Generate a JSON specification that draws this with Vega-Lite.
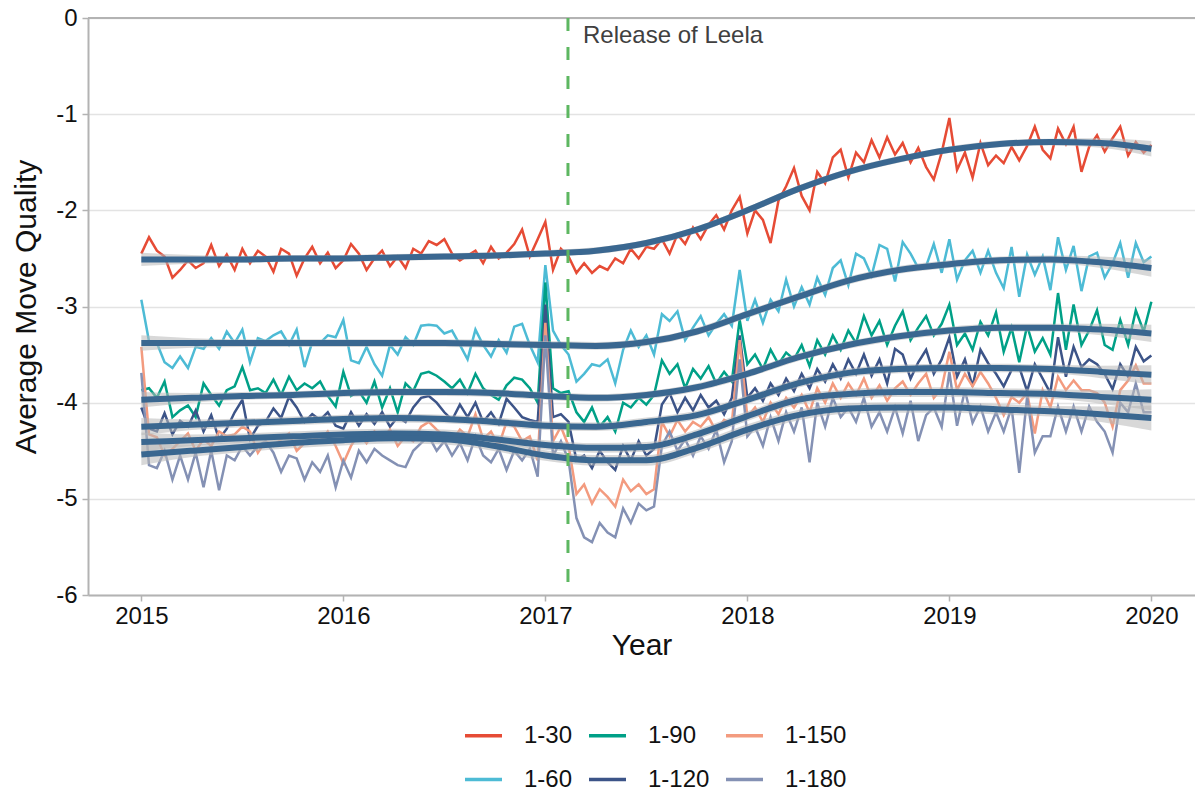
{
"$schema": "https://vega.github.io/schema/vega-lite/v6.json",
"width": 1107,
"height": 577,
"autosize": {"type": "none"},
"padding": {"left": 88, "top": 18, "right": 0, "bottom": 197},
"background": "white",
"config": {
  "font": "Liberation Sans",
  "view": {"stroke": null},
  "axis": {"labelFontSize": 24, "titleFontSize": 30, "titleFontWeight": "normal", "labelColor": "#111111", "titleColor": "#111111", "domainColor": "#b3b3b3", "domainWidth": 2, "tickColor": "#b3b3b3", "tickWidth": 1.5, "tickSize": 6, "gridColor": "#e3e3e3", "gridWidth": 1.5},
  "legend": {"labelFontSize": 24, "labelColor": "#111111", "symbolType": "stroke", "symbolSize": 1369, "symbolStrokeWidth": 3.5, "labelOffset": 20, "columnPadding": 9, "rowPadding": 11, "padding": 0, "offset": 0, "gridAlign": "each"}
},
"datasets": {
"events": [{"event": "Release of Leela", "t": 2017.112}],
"smooth": [
{"s":"1-30","t":2015,"y":-2.51,"lo":-2.58,"hi":-2.44},
{"s":"1-30","t":2015.25,"y":-2.51,"lo":-2.555,"hi":-2.465},
{"s":"1-30","t":2015.5,"y":-2.51,"lo":-2.545,"hi":-2.475},
{"s":"1-30","t":2015.75,"y":-2.50,"lo":-2.535,"hi":-2.465},
{"s":"1-30","t":2016,"y":-2.50,"lo":-2.535,"hi":-2.465},
{"s":"1-30","t":2016.25,"y":-2.49,"lo":-2.525,"hi":-2.455},
{"s":"1-30","t":2016.5,"y":-2.48,"lo":-2.515,"hi":-2.445},
{"s":"1-30","t":2016.75,"y":-2.47,"lo":-2.505,"hi":-2.435},
{"s":"1-30","t":2017,"y":-2.45,"lo":-2.485,"hi":-2.415},
{"s":"1-30","t":2017.25,"y":-2.42,"lo":-2.455,"hi":-2.385},
{"s":"1-30","t":2017.5,"y":-2.34,"lo":-2.375,"hi":-2.305},
{"s":"1-30","t":2017.75,"y":-2.20,"lo":-2.235,"hi":-2.165},
{"s":"1-30","t":2018,"y":-2.00,"lo":-2.035,"hi":-1.965},
{"s":"1-30","t":2018.25,"y":-1.78,"lo":-1.815,"hi":-1.745},
{"s":"1-30","t":2018.5,"y":-1.60,"lo":-1.635,"hi":-1.565},
{"s":"1-30","t":2018.75,"y":-1.47,"lo":-1.505,"hi":-1.435},
{"s":"1-30","t":2019,"y":-1.37,"lo":-1.405,"hi":-1.335},
{"s":"1-30","t":2019.25,"y":-1.31,"lo":-1.345,"hi":-1.275},
{"s":"1-30","t":2019.5,"y":-1.29,"lo":-1.325,"hi":-1.255},
{"s":"1-30","t":2019.75,"y":-1.30,"lo":-1.35,"hi":-1.25},
{"s":"1-30","t":2020,"y":-1.36,"lo":-1.44,"hi":-1.28},
{"s":"1-60","t":2015,"y":-3.38,"lo":-3.46,"hi":-3.30},
{"s":"1-60","t":2015.25,"y":-3.38,"lo":-3.43,"hi":-3.33},
{"s":"1-60","t":2015.5,"y":-3.38,"lo":-3.42,"hi":-3.34},
{"s":"1-60","t":2015.75,"y":-3.38,"lo":-3.42,"hi":-3.34},
{"s":"1-60","t":2016,"y":-3.38,"lo":-3.42,"hi":-3.34},
{"s":"1-60","t":2016.25,"y":-3.38,"lo":-3.42,"hi":-3.34},
{"s":"1-60","t":2016.5,"y":-3.38,"lo":-3.42,"hi":-3.34},
{"s":"1-60","t":2016.75,"y":-3.39,"lo":-3.43,"hi":-3.35},
{"s":"1-60","t":2017,"y":-3.40,"lo":-3.44,"hi":-3.36},
{"s":"1-60","t":2017.25,"y":-3.41,"lo":-3.45,"hi":-3.37},
{"s":"1-60","t":2017.5,"y":-3.37,"lo":-3.41,"hi":-3.33},
{"s":"1-60","t":2017.75,"y":-3.26,"lo":-3.30,"hi":-3.22},
{"s":"1-60","t":2018,"y":-3.08,"lo":-3.12,"hi":-3.04},
{"s":"1-60","t":2018.25,"y":-2.90,"lo":-2.94,"hi":-2.86},
{"s":"1-60","t":2018.5,"y":-2.73,"lo":-2.77,"hi":-2.69},
{"s":"1-60","t":2018.75,"y":-2.62,"lo":-2.66,"hi":-2.58},
{"s":"1-60","t":2019,"y":-2.56,"lo":-2.60,"hi":-2.52},
{"s":"1-60","t":2019.25,"y":-2.52,"lo":-2.56,"hi":-2.48},
{"s":"1-60","t":2019.5,"y":-2.51,"lo":-2.55,"hi":-2.47},
{"s":"1-60","t":2019.75,"y":-2.54,"lo":-2.60,"hi":-2.48},
{"s":"1-60","t":2020,"y":-2.60,"lo":-2.69,"hi":-2.51},
{"s":"1-90","t":2015,"y":-3.97,"lo":-4.05,"hi":-3.89},
{"s":"1-90","t":2015.25,"y":-3.95,"lo":-4.00,"hi":-3.90},
{"s":"1-90","t":2015.5,"y":-3.93,"lo":-3.97,"hi":-3.89},
{"s":"1-90","t":2015.75,"y":-3.92,"lo":-3.96,"hi":-3.88},
{"s":"1-90","t":2016,"y":-3.90,"lo":-3.94,"hi":-3.86},
{"s":"1-90","t":2016.25,"y":-3.89,"lo":-3.93,"hi":-3.85},
{"s":"1-90","t":2016.5,"y":-3.89,"lo":-3.93,"hi":-3.85},
{"s":"1-90","t":2016.75,"y":-3.90,"lo":-3.94,"hi":-3.86},
{"s":"1-90","t":2017,"y":-3.93,"lo":-3.97,"hi":-3.89},
{"s":"1-90","t":2017.25,"y":-3.95,"lo":-3.99,"hi":-3.91},
{"s":"1-90","t":2017.5,"y":-3.92,"lo":-3.96,"hi":-3.88},
{"s":"1-90","t":2017.75,"y":-3.84,"lo":-3.88,"hi":-3.80},
{"s":"1-90","t":2018,"y":-3.70,"lo":-3.74,"hi":-3.66},
{"s":"1-90","t":2018.25,"y":-3.53,"lo":-3.57,"hi":-3.49},
{"s":"1-90","t":2018.5,"y":-3.40,"lo":-3.44,"hi":-3.36},
{"s":"1-90","t":2018.75,"y":-3.31,"lo":-3.35,"hi":-3.27},
{"s":"1-90","t":2019,"y":-3.25,"lo":-3.29,"hi":-3.21},
{"s":"1-90","t":2019.25,"y":-3.22,"lo":-3.26,"hi":-3.18},
{"s":"1-90","t":2019.5,"y":-3.22,"lo":-3.26,"hi":-3.18},
{"s":"1-90","t":2019.75,"y":-3.24,"lo":-3.30,"hi":-3.18},
{"s":"1-90","t":2020,"y":-3.28,"lo":-3.37,"hi":-3.19},
{"s":"1-120","t":2015,"y":-4.25,"lo":-4.34,"hi":-4.16},
{"s":"1-120","t":2015.25,"y":-4.23,"lo":-4.285,"hi":-4.175},
{"s":"1-120","t":2015.5,"y":-4.21,"lo":-4.255,"hi":-4.165},
{"s":"1-120","t":2015.75,"y":-4.19,"lo":-4.235,"hi":-4.145},
{"s":"1-120","t":2016,"y":-4.17,"lo":-4.215,"hi":-4.125},
{"s":"1-120","t":2016.25,"y":-4.16,"lo":-4.205,"hi":-4.115},
{"s":"1-120","t":2016.5,"y":-4.17,"lo":-4.215,"hi":-4.125},
{"s":"1-120","t":2016.75,"y":-4.20,"lo":-4.245,"hi":-4.155},
{"s":"1-120","t":2017,"y":-4.24,"lo":-4.285,"hi":-4.195},
{"s":"1-120","t":2017.25,"y":-4.25,"lo":-4.295,"hi":-4.205},
{"s":"1-120","t":2017.5,"y":-4.20,"lo":-4.245,"hi":-4.155},
{"s":"1-120","t":2017.75,"y":-4.13,"lo":-4.175,"hi":-4.085},
{"s":"1-120","t":2018,"y":-3.97,"lo":-4.015,"hi":-3.925},
{"s":"1-120","t":2018.25,"y":-3.80,"lo":-3.845,"hi":-3.755},
{"s":"1-120","t":2018.5,"y":-3.69,"lo":-3.735,"hi":-3.645},
{"s":"1-120","t":2018.75,"y":-3.65,"lo":-3.695,"hi":-3.605},
{"s":"1-120","t":2019,"y":-3.64,"lo":-3.685,"hi":-3.595},
{"s":"1-120","t":2019.25,"y":-3.64,"lo":-3.685,"hi":-3.595},
{"s":"1-120","t":2019.5,"y":-3.65,"lo":-3.695,"hi":-3.605},
{"s":"1-120","t":2019.75,"y":-3.68,"lo":-3.745,"hi":-3.615},
{"s":"1-120","t":2020,"y":-3.71,"lo":-3.81,"hi":-3.61},
{"s":"1-150","t":2015,"y":-4.41,"lo":-4.51,"hi":-4.31},
{"s":"1-150","t":2015.25,"y":-4.39,"lo":-4.45,"hi":-4.33},
{"s":"1-150","t":2015.5,"y":-4.37,"lo":-4.42,"hi":-4.32},
{"s":"1-150","t":2015.75,"y":-4.35,"lo":-4.40,"hi":-4.30},
{"s":"1-150","t":2016,"y":-4.33,"lo":-4.38,"hi":-4.28},
{"s":"1-150","t":2016.25,"y":-4.32,"lo":-4.37,"hi":-4.27},
{"s":"1-150","t":2016.5,"y":-4.33,"lo":-4.38,"hi":-4.28},
{"s":"1-150","t":2016.75,"y":-4.38,"lo":-4.43,"hi":-4.33},
{"s":"1-150","t":2017,"y":-4.44,"lo":-4.49,"hi":-4.39},
{"s":"1-150","t":2017.25,"y":-4.47,"lo":-4.52,"hi":-4.42},
{"s":"1-150","t":2017.5,"y":-4.46,"lo":-4.51,"hi":-4.41},
{"s":"1-150","t":2017.75,"y":-4.33,"lo":-4.38,"hi":-4.28},
{"s":"1-150","t":2018,"y":-4.14,"lo":-4.19,"hi":-4.09},
{"s":"1-150","t":2018.25,"y":-3.97,"lo":-4.02,"hi":-3.92},
{"s":"1-150","t":2018.5,"y":-3.91,"lo":-3.96,"hi":-3.86},
{"s":"1-150","t":2018.75,"y":-3.89,"lo":-3.94,"hi":-3.84},
{"s":"1-150","t":2019,"y":-3.89,"lo":-3.94,"hi":-3.84},
{"s":"1-150","t":2019.25,"y":-3.90,"lo":-3.95,"hi":-3.85},
{"s":"1-150","t":2019.5,"y":-3.91,"lo":-3.96,"hi":-3.86},
{"s":"1-150","t":2019.75,"y":-3.94,"lo":-4.01,"hi":-3.87},
{"s":"1-150","t":2020,"y":-3.97,"lo":-4.08,"hi":-3.86},
{"s":"1-180","t":2015,"y":-4.54,"lo":-4.65,"hi":-4.43},
{"s":"1-180","t":2015.25,"y":-4.50,"lo":-4.565,"hi":-4.435},
{"s":"1-180","t":2015.5,"y":-4.46,"lo":-4.515,"hi":-4.405},
{"s":"1-180","t":2015.75,"y":-4.42,"lo":-4.475,"hi":-4.365},
{"s":"1-180","t":2016,"y":-4.39,"lo":-4.445,"hi":-4.335},
{"s":"1-180","t":2016.25,"y":-4.37,"lo":-4.425,"hi":-4.315},
{"s":"1-180","t":2016.5,"y":-4.38,"lo":-4.435,"hi":-4.325},
{"s":"1-180","t":2016.75,"y":-4.45,"lo":-4.505,"hi":-4.395},
{"s":"1-180","t":2017,"y":-4.55,"lo":-4.605,"hi":-4.495},
{"s":"1-180","t":2017.25,"y":-4.60,"lo":-4.655,"hi":-4.545},
{"s":"1-180","t":2017.5,"y":-4.60,"lo":-4.655,"hi":-4.545},
{"s":"1-180","t":2017.75,"y":-4.47,"lo":-4.525,"hi":-4.415},
{"s":"1-180","t":2018,"y":-4.28,"lo":-4.335,"hi":-4.225},
{"s":"1-180","t":2018.25,"y":-4.13,"lo":-4.185,"hi":-4.075},
{"s":"1-180","t":2018.5,"y":-4.06,"lo":-4.115,"hi":-4.005},
{"s":"1-180","t":2018.75,"y":-4.05,"lo":-4.105,"hi":-3.995},
{"s":"1-180","t":2019,"y":-4.05,"lo":-4.105,"hi":-3.995},
{"s":"1-180","t":2019.25,"y":-4.07,"lo":-4.125,"hi":-4.015},
{"s":"1-180","t":2019.5,"y":-4.09,"lo":-4.145,"hi":-4.035},
{"s":"1-180","t":2019.75,"y":-4.12,"lo":-4.20,"hi":-4.04},
{"s":"1-180","t":2020,"y":-4.16,"lo":-4.29,"hi":-4.03}
],
"raw": [
{"s":"1-30","t":2015,"v":-2.45},{"s":"1-30","t":2015.038,"v":-2.28},{"s":"1-30","t":2015.077,"v":-2.42},{"s":"1-30","t":2015.115,"v":-2.48},{"s":"1-30","t":2015.154,"v":-2.70},{"s":"1-30","t":2015.192,"v":-2.62},{"s":"1-30","t":2015.231,"v":-2.52},{"s":"1-30","t":2015.269,"v":-2.60},{"s":"1-30","t":2015.308,"v":-2.55},{"s":"1-30","t":2015.346,"v":-2.36},{"s":"1-30","t":2015.385,"v":-2.58},{"s":"1-30","t":2015.423,"v":-2.46},{"s":"1-30","t":2015.462,"v":-2.62},{"s":"1-30","t":2015.5,"v":-2.40},{"s":"1-30","t":2015.538,"v":-2.55},{"s":"1-30","t":2015.577,"v":-2.42},{"s":"1-30","t":2015.615,"v":-2.48},{"s":"1-30","t":2015.654,"v":-2.64},{"s":"1-30","t":2015.692,"v":-2.40},{"s":"1-30","t":2015.731,"v":-2.45},{"s":"1-30","t":2015.769,"v":-2.68},{"s":"1-30","t":2015.808,"v":-2.50},{"s":"1-30","t":2015.846,"v":-2.38},{"s":"1-30","t":2015.885,"v":-2.55},{"s":"1-30","t":2015.923,"v":-2.44},{"s":"1-30","t":2015.962,"v":-2.60},
{"s":"1-30","t":2016,"v":-2.52},{"s":"1-30","t":2016.038,"v":-2.35},{"s":"1-30","t":2016.077,"v":-2.45},{"s":"1-30","t":2016.115,"v":-2.62},{"s":"1-30","t":2016.154,"v":-2.50},{"s":"1-30","t":2016.192,"v":-2.42},{"s":"1-30","t":2016.231,"v":-2.58},{"s":"1-30","t":2016.269,"v":-2.48},{"s":"1-30","t":2016.308,"v":-2.60},{"s":"1-30","t":2016.346,"v":-2.40},{"s":"1-30","t":2016.385,"v":-2.45},{"s":"1-30","t":2016.423,"v":-2.32},{"s":"1-30","t":2016.462,"v":-2.36},{"s":"1-30","t":2016.5,"v":-2.30},{"s":"1-30","t":2016.538,"v":-2.45},{"s":"1-30","t":2016.577,"v":-2.52},{"s":"1-30","t":2016.615,"v":-2.47},{"s":"1-30","t":2016.654,"v":-2.42},{"s":"1-30","t":2016.692,"v":-2.55},{"s":"1-30","t":2016.731,"v":-2.38},{"s":"1-30","t":2016.769,"v":-2.50},{"s":"1-30","t":2016.808,"v":-2.44},{"s":"1-30","t":2016.846,"v":-2.35},{"s":"1-30","t":2016.885,"v":-2.20},{"s":"1-30","t":2016.923,"v":-2.48},{"s":"1-30","t":2016.962,"v":-2.30},
{"s":"1-30","t":2017,"v":-2.12},{"s":"1-30","t":2017.038,"v":-2.62},{"s":"1-30","t":2017.077,"v":-2.40},{"s":"1-30","t":2017.115,"v":-2.48},{"s":"1-30","t":2017.154,"v":-2.65},{"s":"1-30","t":2017.192,"v":-2.55},{"s":"1-30","t":2017.231,"v":-2.65},{"s":"1-30","t":2017.269,"v":-2.58},{"s":"1-30","t":2017.308,"v":-2.62},{"s":"1-30","t":2017.346,"v":-2.50},{"s":"1-30","t":2017.385,"v":-2.55},{"s":"1-30","t":2017.423,"v":-2.40},{"s":"1-30","t":2017.462,"v":-2.50},{"s":"1-30","t":2017.5,"v":-2.38},{"s":"1-30","t":2017.538,"v":-2.40},{"s":"1-30","t":2017.577,"v":-2.30},{"s":"1-30","t":2017.615,"v":-2.45},{"s":"1-30","t":2017.654,"v":-2.25},{"s":"1-30","t":2017.692,"v":-2.35},{"s":"1-30","t":2017.731,"v":-2.18},{"s":"1-30","t":2017.769,"v":-2.30},{"s":"1-30","t":2017.808,"v":-2.15},{"s":"1-30","t":2017.846,"v":-2.05},{"s":"1-30","t":2017.885,"v":-2.20},{"s":"1-30","t":2017.923,"v":-2.00},{"s":"1-30","t":2017.962,"v":-1.86},
{"s":"1-30","t":2018,"v":-2.24},{"s":"1-30","t":2018.038,"v":-2.00},{"s":"1-30","t":2018.077,"v":-2.10},{"s":"1-30","t":2018.115,"v":-2.34},{"s":"1-30","t":2018.154,"v":-1.90},{"s":"1-30","t":2018.192,"v":-1.75},{"s":"1-30","t":2018.231,"v":-1.56},{"s":"1-30","t":2018.269,"v":-1.85},{"s":"1-30","t":2018.308,"v":-2.00},{"s":"1-30","t":2018.346,"v":-1.60},{"s":"1-30","t":2018.385,"v":-1.72},{"s":"1-30","t":2018.423,"v":-1.45},{"s":"1-30","t":2018.462,"v":-1.37},{"s":"1-30","t":2018.5,"v":-1.66},{"s":"1-30","t":2018.538,"v":-1.40},{"s":"1-30","t":2018.577,"v":-1.50},{"s":"1-30","t":2018.615,"v":-1.27},{"s":"1-30","t":2018.654,"v":-1.45},{"s":"1-30","t":2018.692,"v":-1.24},{"s":"1-30","t":2018.731,"v":-1.42},{"s":"1-30","t":2018.769,"v":-1.30},{"s":"1-30","t":2018.808,"v":-1.50},{"s":"1-30","t":2018.846,"v":-1.35},{"s":"1-30","t":2018.885,"v":-1.55},{"s":"1-30","t":2018.923,"v":-1.68},{"s":"1-30","t":2018.962,"v":-1.40},
{"s":"1-30","t":2019,"v":-1.04},{"s":"1-30","t":2019.038,"v":-1.58},{"s":"1-30","t":2019.077,"v":-1.40},{"s":"1-30","t":2019.115,"v":-1.66},{"s":"1-30","t":2019.154,"v":-1.30},{"s":"1-30","t":2019.192,"v":-1.53},{"s":"1-30","t":2019.231,"v":-1.43},{"s":"1-30","t":2019.269,"v":-1.51},{"s":"1-30","t":2019.308,"v":-1.34},{"s":"1-30","t":2019.346,"v":-1.48},{"s":"1-30","t":2019.385,"v":-1.33},{"s":"1-30","t":2019.423,"v":-1.13},{"s":"1-30","t":2019.462,"v":-1.37},{"s":"1-30","t":2019.5,"v":-1.46},{"s":"1-30","t":2019.538,"v":-1.15},{"s":"1-30","t":2019.577,"v":-1.31},{"s":"1-30","t":2019.615,"v":-1.13},{"s":"1-30","t":2019.654,"v":-1.60},{"s":"1-30","t":2019.692,"v":-1.34},{"s":"1-30","t":2019.731,"v":-1.22},{"s":"1-30","t":2019.769,"v":-1.39},{"s":"1-30","t":2019.808,"v":-1.25},{"s":"1-30","t":2019.846,"v":-1.13},{"s":"1-30","t":2019.885,"v":-1.43},{"s":"1-30","t":2019.923,"v":-1.29},{"s":"1-30","t":2019.962,"v":-1.40},{"s":"1-30","t":2020,"v":-1.32},
{"s":"1-60","t":2015,"v":-2.93},{"s":"1-60","t":2015.038,"v":-3.36},{"s":"1-60","t":2015.077,"v":-3.38},{"s":"1-60","t":2015.115,"v":-3.58},{"s":"1-60","t":2015.154,"v":-3.64},{"s":"1-60","t":2015.192,"v":-3.52},{"s":"1-60","t":2015.231,"v":-3.64},{"s":"1-60","t":2015.269,"v":-3.42},{"s":"1-60","t":2015.308,"v":-3.44},{"s":"1-60","t":2015.346,"v":-3.33},{"s":"1-60","t":2015.385,"v":-3.44},{"s":"1-60","t":2015.423,"v":-3.26},{"s":"1-60","t":2015.462,"v":-3.38},{"s":"1-60","t":2015.5,"v":-3.24},{"s":"1-60","t":2015.538,"v":-3.58},{"s":"1-60","t":2015.577,"v":-3.33},{"s":"1-60","t":2015.615,"v":-3.36},{"s":"1-60","t":2015.654,"v":-3.30},{"s":"1-60","t":2015.692,"v":-3.26},{"s":"1-60","t":2015.731,"v":-3.40},{"s":"1-60","t":2015.769,"v":-3.24},{"s":"1-60","t":2015.808,"v":-3.63},{"s":"1-60","t":2015.846,"v":-3.37},{"s":"1-60","t":2015.885,"v":-3.38},{"s":"1-60","t":2015.923,"v":-3.30},{"s":"1-60","t":2015.962,"v":-3.32},
{"s":"1-60","t":2016,"v":-3.14},{"s":"1-60","t":2016.038,"v":-3.56},{"s":"1-60","t":2016.077,"v":-3.59},{"s":"1-60","t":2016.115,"v":-3.42},{"s":"1-60","t":2016.154,"v":-3.60},{"s":"1-60","t":2016.192,"v":-3.72},{"s":"1-60","t":2016.231,"v":-3.40},{"s":"1-60","t":2016.269,"v":-3.50},{"s":"1-60","t":2016.308,"v":-3.32},{"s":"1-60","t":2016.346,"v":-3.40},{"s":"1-60","t":2016.385,"v":-3.20},{"s":"1-60","t":2016.423,"v":-3.19},{"s":"1-60","t":2016.462,"v":-3.20},{"s":"1-60","t":2016.5,"v":-3.28},{"s":"1-60","t":2016.538,"v":-3.25},{"s":"1-60","t":2016.577,"v":-3.40},{"s":"1-60","t":2016.615,"v":-3.55},{"s":"1-60","t":2016.654,"v":-3.24},{"s":"1-60","t":2016.692,"v":-3.40},{"s":"1-60","t":2016.731,"v":-3.52},{"s":"1-60","t":2016.769,"v":-3.35},{"s":"1-60","t":2016.808,"v":-3.48},{"s":"1-60","t":2016.846,"v":-3.21},{"s":"1-60","t":2016.885,"v":-3.18},{"s":"1-60","t":2016.923,"v":-3.40},{"s":"1-60","t":2016.962,"v":-3.58},
{"s":"1-60","t":2017,"v":-2.57},{"s":"1-60","t":2017.038,"v":-3.25},{"s":"1-60","t":2017.077,"v":-3.40},{"s":"1-60","t":2017.115,"v":-3.50},{"s":"1-60","t":2017.154,"v":-3.78},{"s":"1-60","t":2017.192,"v":-3.70},{"s":"1-60","t":2017.231,"v":-3.60},{"s":"1-60","t":2017.269,"v":-3.62},{"s":"1-60","t":2017.308,"v":-3.55},{"s":"1-60","t":2017.346,"v":-3.80},{"s":"1-60","t":2017.385,"v":-3.45},{"s":"1-60","t":2017.423,"v":-3.25},{"s":"1-60","t":2017.462,"v":-3.42},{"s":"1-60","t":2017.5,"v":-3.30},{"s":"1-60","t":2017.538,"v":-3.50},{"s":"1-60","t":2017.577,"v":-3.08},{"s":"1-60","t":2017.615,"v":-3.15},{"s":"1-60","t":2017.654,"v":-3.05},{"s":"1-60","t":2017.692,"v":-3.35},{"s":"1-60","t":2017.731,"v":-3.22},{"s":"1-60","t":2017.769,"v":-3.10},{"s":"1-60","t":2017.808,"v":-3.30},{"s":"1-60","t":2017.846,"v":-3.18},{"s":"1-60","t":2017.885,"v":-3.08},{"s":"1-60","t":2017.923,"v":-3.20},{"s":"1-60","t":2017.962,"v":-2.62},
{"s":"1-60","t":2018,"v":-3.15},{"s":"1-60","t":2018.038,"v":-2.93},{"s":"1-60","t":2018.077,"v":-3.17},{"s":"1-60","t":2018.115,"v":-2.93},{"s":"1-60","t":2018.154,"v":-3.05},{"s":"1-60","t":2018.192,"v":-2.72},{"s":"1-60","t":2018.231,"v":-3.00},{"s":"1-60","t":2018.269,"v":-2.80},{"s":"1-60","t":2018.308,"v":-2.98},{"s":"1-60","t":2018.346,"v":-2.70},{"s":"1-60","t":2018.385,"v":-2.88},{"s":"1-60","t":2018.423,"v":-2.60},{"s":"1-60","t":2018.462,"v":-2.52},{"s":"1-60","t":2018.5,"v":-2.78},{"s":"1-60","t":2018.538,"v":-2.45},{"s":"1-60","t":2018.577,"v":-2.50},{"s":"1-60","t":2018.615,"v":-2.68},{"s":"1-60","t":2018.654,"v":-2.36},{"s":"1-60","t":2018.692,"v":-2.40},{"s":"1-60","t":2018.731,"v":-2.74},{"s":"1-60","t":2018.769,"v":-2.33},{"s":"1-60","t":2018.808,"v":-2.45},{"s":"1-60","t":2018.846,"v":-2.60},{"s":"1-60","t":2018.885,"v":-2.58},{"s":"1-60","t":2018.923,"v":-2.35},{"s":"1-60","t":2018.962,"v":-2.65},
{"s":"1-60","t":2019,"v":-2.30},{"s":"1-60","t":2019.038,"v":-2.72},{"s":"1-60","t":2019.077,"v":-2.52},{"s":"1-60","t":2019.115,"v":-2.42},{"s":"1-60","t":2019.154,"v":-2.65},{"s":"1-60","t":2019.192,"v":-2.42},{"s":"1-60","t":2019.231,"v":-2.65},{"s":"1-60","t":2019.269,"v":-2.81},{"s":"1-60","t":2019.308,"v":-2.38},{"s":"1-60","t":2019.346,"v":-2.90},{"s":"1-60","t":2019.385,"v":-2.46},{"s":"1-60","t":2019.423,"v":-2.67},{"s":"1-60","t":2019.462,"v":-2.48},{"s":"1-60","t":2019.5,"v":-2.83},{"s":"1-60","t":2019.538,"v":-2.28},{"s":"1-60","t":2019.577,"v":-2.62},{"s":"1-60","t":2019.615,"v":-2.37},{"s":"1-60","t":2019.654,"v":-2.84},{"s":"1-60","t":2019.692,"v":-2.48},{"s":"1-60","t":2019.731,"v":-2.44},{"s":"1-60","t":2019.769,"v":-2.70},{"s":"1-60","t":2019.808,"v":-2.55},{"s":"1-60","t":2019.846,"v":-2.34},{"s":"1-60","t":2019.885,"v":-2.70},{"s":"1-60","t":2019.923,"v":-2.34},{"s":"1-60","t":2019.962,"v":-2.54},{"s":"1-60","t":2020,"v":-2.48},
{"s":"1-90","t":2015,"v":-3.87},{"s":"1-90","t":2015.038,"v":-3.85},{"s":"1-90","t":2015.077,"v":-3.95},{"s":"1-90","t":2015.115,"v":-3.78},{"s":"1-90","t":2015.154,"v":-4.15},{"s":"1-90","t":2015.192,"v":-4.08},{"s":"1-90","t":2015.231,"v":-4.03},{"s":"1-90","t":2015.269,"v":-4.15},{"s":"1-90","t":2015.308,"v":-3.80},{"s":"1-90","t":2015.346,"v":-3.92},{"s":"1-90","t":2015.385,"v":-4.03},{"s":"1-90","t":2015.423,"v":-3.87},{"s":"1-90","t":2015.462,"v":-3.83},{"s":"1-90","t":2015.5,"v":-3.63},{"s":"1-90","t":2015.538,"v":-3.87},{"s":"1-90","t":2015.577,"v":-3.85},{"s":"1-90","t":2015.615,"v":-3.90},{"s":"1-90","t":2015.654,"v":-3.76},{"s":"1-90","t":2015.692,"v":-3.92},{"s":"1-90","t":2015.731,"v":-3.73},{"s":"1-90","t":2015.769,"v":-3.87},{"s":"1-90","t":2015.808,"v":-3.80},{"s":"1-90","t":2015.846,"v":-3.85},{"s":"1-90","t":2015.885,"v":-3.78},{"s":"1-90","t":2015.923,"v":-3.93},{"s":"1-90","t":2015.962,"v":-4.04},
{"s":"1-90","t":2016,"v":-3.68},{"s":"1-90","t":2016.038,"v":-3.93},{"s":"1-90","t":2016.077,"v":-3.88},{"s":"1-90","t":2016.115,"v":-4.00},{"s":"1-90","t":2016.154,"v":-3.78},{"s":"1-90","t":2016.192,"v":-4.05},{"s":"1-90","t":2016.231,"v":-3.85},{"s":"1-90","t":2016.269,"v":-4.10},{"s":"1-90","t":2016.308,"v":-3.80},{"s":"1-90","t":2016.346,"v":-3.88},{"s":"1-90","t":2016.385,"v":-3.70},{"s":"1-90","t":2016.423,"v":-3.68},{"s":"1-90","t":2016.462,"v":-3.72},{"s":"1-90","t":2016.5,"v":-3.78},{"s":"1-90","t":2016.538,"v":-3.85},{"s":"1-90","t":2016.577,"v":-3.76},{"s":"1-90","t":2016.615,"v":-3.90},{"s":"1-90","t":2016.654,"v":-3.70},{"s":"1-90","t":2016.692,"v":-3.85},{"s":"1-90","t":2016.731,"v":-3.92},{"s":"1-90","t":2016.769,"v":-3.97},{"s":"1-90","t":2016.808,"v":-3.82},{"s":"1-90","t":2016.846,"v":-3.74},{"s":"1-90","t":2016.885,"v":-3.76},{"s":"1-90","t":2016.923,"v":-3.85},{"s":"1-90","t":2016.962,"v":-4.00},
{"s":"1-90","t":2017,"v":-2.75},{"s":"1-90","t":2017.038,"v":-3.85},{"s":"1-90","t":2017.077,"v":-3.90},{"s":"1-90","t":2017.115,"v":-3.88},{"s":"1-90","t":2017.154,"v":-4.10},{"s":"1-90","t":2017.192,"v":-4.20},{"s":"1-90","t":2017.231,"v":-4.05},{"s":"1-90","t":2017.269,"v":-4.25},{"s":"1-90","t":2017.308,"v":-4.15},{"s":"1-90","t":2017.346,"v":-4.30},{"s":"1-90","t":2017.385,"v":-4.00},{"s":"1-90","t":2017.423,"v":-4.05},{"s":"1-90","t":2017.462,"v":-3.95},{"s":"1-90","t":2017.5,"v":-4.02},{"s":"1-90","t":2017.538,"v":-3.92},{"s":"1-90","t":2017.577,"v":-3.56},{"s":"1-90","t":2017.615,"v":-3.70},{"s":"1-90","t":2017.654,"v":-3.60},{"s":"1-90","t":2017.692,"v":-3.85},{"s":"1-90","t":2017.731,"v":-3.65},{"s":"1-90","t":2017.769,"v":-3.75},{"s":"1-90","t":2017.808,"v":-3.62},{"s":"1-90","t":2017.846,"v":-3.80},{"s":"1-90","t":2017.885,"v":-3.68},{"s":"1-90","t":2017.923,"v":-3.78},{"s":"1-90","t":2017.962,"v":-3.14},
{"s":"1-90","t":2018,"v":-3.60},{"s":"1-90","t":2018.038,"v":-3.50},{"s":"1-90","t":2018.077,"v":-3.65},{"s":"1-90","t":2018.115,"v":-3.45},{"s":"1-90","t":2018.154,"v":-3.60},{"s":"1-90","t":2018.192,"v":-3.48},{"s":"1-90","t":2018.231,"v":-3.55},{"s":"1-90","t":2018.269,"v":-3.40},{"s":"1-90","t":2018.308,"v":-3.62},{"s":"1-90","t":2018.346,"v":-3.35},{"s":"1-90","t":2018.385,"v":-3.50},{"s":"1-90","t":2018.423,"v":-3.30},{"s":"1-90","t":2018.462,"v":-3.45},{"s":"1-90","t":2018.5,"v":-3.25},{"s":"1-90","t":2018.538,"v":-3.38},{"s":"1-90","t":2018.577,"v":-3.10},{"s":"1-90","t":2018.615,"v":-3.30},{"s":"1-90","t":2018.654,"v":-3.15},{"s":"1-90","t":2018.692,"v":-3.40},{"s":"1-90","t":2018.731,"v":-3.20},{"s":"1-90","t":2018.769,"v":-3.05},{"s":"1-90","t":2018.808,"v":-3.35},{"s":"1-90","t":2018.846,"v":-3.22},{"s":"1-90","t":2018.885,"v":-3.10},{"s":"1-90","t":2018.923,"v":-3.30},{"s":"1-90","t":2018.962,"v":-3.18},
{"s":"1-90","t":2019,"v":-2.98},{"s":"1-90","t":2019.038,"v":-3.40},{"s":"1-90","t":2019.077,"v":-3.28},{"s":"1-90","t":2019.115,"v":-3.45},{"s":"1-90","t":2019.154,"v":-3.16},{"s":"1-90","t":2019.192,"v":-3.30},{"s":"1-90","t":2019.231,"v":-3.06},{"s":"1-90","t":2019.269,"v":-3.47},{"s":"1-90","t":2019.308,"v":-3.22},{"s":"1-90","t":2019.346,"v":-3.58},{"s":"1-90","t":2019.385,"v":-3.20},{"s":"1-90","t":2019.423,"v":-3.47},{"s":"1-90","t":2019.462,"v":-3.33},{"s":"1-90","t":2019.5,"v":-3.50},{"s":"1-90","t":2019.538,"v":-2.86},{"s":"1-90","t":2019.577,"v":-3.45},{"s":"1-90","t":2019.615,"v":-2.98},{"s":"1-90","t":2019.654,"v":-3.40},{"s":"1-90","t":2019.692,"v":-3.25},{"s":"1-90","t":2019.731,"v":-3.04},{"s":"1-90","t":2019.769,"v":-3.40},{"s":"1-90","t":2019.808,"v":-3.45},{"s":"1-90","t":2019.846,"v":-3.14},{"s":"1-90","t":2019.885,"v":-3.40},{"s":"1-90","t":2019.923,"v":-3.04},{"s":"1-90","t":2019.962,"v":-3.26},{"s":"1-90","t":2020,"v":-2.95},
{"s":"1-120","t":2015,"v":-4.05},{"s":"1-120","t":2015.038,"v":-4.27},{"s":"1-120","t":2015.077,"v":-4.30},{"s":"1-120","t":2015.115,"v":-4.11},{"s":"1-120","t":2015.154,"v":-4.33},{"s":"1-120","t":2015.192,"v":-4.19},{"s":"1-120","t":2015.231,"v":-4.25},{"s":"1-120","t":2015.269,"v":-4.08},{"s":"1-120","t":2015.308,"v":-4.30},{"s":"1-120","t":2015.346,"v":-4.13},{"s":"1-120","t":2015.385,"v":-4.38},{"s":"1-120","t":2015.423,"v":-4.27},{"s":"1-120","t":2015.462,"v":-4.10},{"s":"1-120","t":2015.5,"v":-3.97},{"s":"1-120","t":2015.538,"v":-4.38},{"s":"1-120","t":2015.577,"v":-4.24},{"s":"1-120","t":2015.615,"v":-4.20},{"s":"1-120","t":2015.654,"v":-4.06},{"s":"1-120","t":2015.692,"v":-4.16},{"s":"1-120","t":2015.731,"v":-3.94},{"s":"1-120","t":2015.769,"v":-4.05},{"s":"1-120","t":2015.808,"v":-4.20},{"s":"1-120","t":2015.846,"v":-4.12},{"s":"1-120","t":2015.885,"v":-4.18},{"s":"1-120","t":2015.923,"v":-4.10},{"s":"1-120","t":2015.962,"v":-4.24},
{"s":"1-120","t":2016,"v":-4.27},{"s":"1-120","t":2016.038,"v":-4.10},{"s":"1-120","t":2016.077,"v":-4.24},{"s":"1-120","t":2016.115,"v":-4.12},{"s":"1-120","t":2016.154,"v":-4.22},{"s":"1-120","t":2016.192,"v":-4.10},{"s":"1-120","t":2016.231,"v":-4.25},{"s":"1-120","t":2016.269,"v":-4.15},{"s":"1-120","t":2016.308,"v":-4.20},{"s":"1-120","t":2016.346,"v":-4.05},{"s":"1-120","t":2016.385,"v":-3.95},{"s":"1-120","t":2016.423,"v":-3.93},{"s":"1-120","t":2016.462,"v":-4.00},{"s":"1-120","t":2016.5,"v":-4.10},{"s":"1-120","t":2016.538,"v":-4.18},{"s":"1-120","t":2016.577,"v":-4.02},{"s":"1-120","t":2016.615,"v":-4.15},{"s":"1-120","t":2016.654,"v":-4.00},{"s":"1-120","t":2016.692,"v":-4.20},{"s":"1-120","t":2016.731,"v":-4.10},{"s":"1-120","t":2016.769,"v":-4.22},{"s":"1-120","t":2016.808,"v":-3.96},{"s":"1-120","t":2016.846,"v":-4.05},{"s":"1-120","t":2016.885,"v":-4.15},{"s":"1-120","t":2016.923,"v":-4.18},{"s":"1-120","t":2016.962,"v":-4.20},
{"s":"1-120","t":2017,"v":-2.98},{"s":"1-120","t":2017.038,"v":-4.15},{"s":"1-120","t":2017.077,"v":-4.12},{"s":"1-120","t":2017.115,"v":-4.20},{"s":"1-120","t":2017.154,"v":-4.60},{"s":"1-120","t":2017.192,"v":-4.55},{"s":"1-120","t":2017.231,"v":-4.68},{"s":"1-120","t":2017.269,"v":-4.50},{"s":"1-120","t":2017.308,"v":-4.62},{"s":"1-120","t":2017.346,"v":-4.70},{"s":"1-120","t":2017.385,"v":-4.45},{"s":"1-120","t":2017.423,"v":-4.60},{"s":"1-120","t":2017.462,"v":-4.40},{"s":"1-120","t":2017.5,"v":-4.55},{"s":"1-120","t":2017.538,"v":-4.48},{"s":"1-120","t":2017.577,"v":-4.02},{"s":"1-120","t":2017.615,"v":-3.90},{"s":"1-120","t":2017.654,"v":-4.10},{"s":"1-120","t":2017.692,"v":-3.95},{"s":"1-120","t":2017.731,"v":-4.08},{"s":"1-120","t":2017.769,"v":-3.92},{"s":"1-120","t":2017.808,"v":-4.05},{"s":"1-120","t":2017.846,"v":-3.98},{"s":"1-120","t":2017.885,"v":-4.12},{"s":"1-120","t":2017.923,"v":-3.95},{"s":"1-120","t":2017.962,"v":-3.30},
{"s":"1-120","t":2018,"v":-3.95},{"s":"1-120","t":2018.038,"v":-3.85},{"s":"1-120","t":2018.077,"v":-3.98},{"s":"1-120","t":2018.115,"v":-3.80},{"s":"1-120","t":2018.154,"v":-3.92},{"s":"1-120","t":2018.192,"v":-3.75},{"s":"1-120","t":2018.231,"v":-3.88},{"s":"1-120","t":2018.269,"v":-3.70},{"s":"1-120","t":2018.308,"v":-3.85},{"s":"1-120","t":2018.346,"v":-3.65},{"s":"1-120","t":2018.385,"v":-3.78},{"s":"1-120","t":2018.423,"v":-3.60},{"s":"1-120","t":2018.462,"v":-3.75},{"s":"1-120","t":2018.5,"v":-3.55},{"s":"1-120","t":2018.538,"v":-3.70},{"s":"1-120","t":2018.577,"v":-3.50},{"s":"1-120","t":2018.615,"v":-3.72},{"s":"1-120","t":2018.654,"v":-3.55},{"s":"1-120","t":2018.692,"v":-3.80},{"s":"1-120","t":2018.731,"v":-3.44},{"s":"1-120","t":2018.769,"v":-3.50},{"s":"1-120","t":2018.808,"v":-3.75},{"s":"1-120","t":2018.846,"v":-3.58},{"s":"1-120","t":2018.885,"v":-3.45},{"s":"1-120","t":2018.923,"v":-3.70},{"s":"1-120","t":2018.962,"v":-3.55},
{"s":"1-120","t":2019,"v":-3.32},{"s":"1-120","t":2019.038,"v":-3.73},{"s":"1-120","t":2019.077,"v":-3.55},{"s":"1-120","t":2019.115,"v":-3.83},{"s":"1-120","t":2019.154,"v":-3.45},{"s":"1-120","t":2019.192,"v":-3.59},{"s":"1-120","t":2019.231,"v":-3.70},{"s":"1-120","t":2019.269,"v":-3.83},{"s":"1-120","t":2019.308,"v":-3.66},{"s":"1-120","t":2019.346,"v":-3.63},{"s":"1-120","t":2019.385,"v":-3.88},{"s":"1-120","t":2019.423,"v":-3.60},{"s":"1-120","t":2019.462,"v":-3.75},{"s":"1-120","t":2019.5,"v":-3.90},{"s":"1-120","t":2019.538,"v":-3.32},{"s":"1-120","t":2019.577,"v":-3.73},{"s":"1-120","t":2019.615,"v":-3.42},{"s":"1-120","t":2019.654,"v":-3.63},{"s":"1-120","t":2019.692,"v":-3.55},{"s":"1-120","t":2019.731,"v":-3.60},{"s":"1-120","t":2019.769,"v":-3.70},{"s":"1-120","t":2019.808,"v":-3.86},{"s":"1-120","t":2019.846,"v":-3.60},{"s":"1-120","t":2019.885,"v":-3.73},{"s":"1-120","t":2019.923,"v":-3.42},{"s":"1-120","t":2019.962,"v":-3.57},{"s":"1-120","t":2020,"v":-3.51},
{"s":"1-150","t":2015,"v":-3.42},{"s":"1-150","t":2015.038,"v":-4.33},{"s":"1-150","t":2015.077,"v":-4.36},{"s":"1-150","t":2015.115,"v":-4.55},{"s":"1-150","t":2015.154,"v":-4.48},{"s":"1-150","t":2015.192,"v":-4.40},{"s":"1-150","t":2015.231,"v":-4.32},{"s":"1-150","t":2015.269,"v":-4.50},{"s":"1-150","t":2015.308,"v":-4.38},{"s":"1-150","t":2015.346,"v":-4.45},{"s":"1-150","t":2015.385,"v":-4.30},{"s":"1-150","t":2015.423,"v":-4.35},{"s":"1-150","t":2015.462,"v":-4.33},{"s":"1-150","t":2015.5,"v":-4.25},{"s":"1-150","t":2015.538,"v":-4.30},{"s":"1-150","t":2015.577,"v":-4.52},{"s":"1-150","t":2015.615,"v":-4.40},{"s":"1-150","t":2015.654,"v":-4.45},{"s":"1-150","t":2015.692,"v":-4.38},{"s":"1-150","t":2015.731,"v":-4.32},{"s":"1-150","t":2015.769,"v":-4.50},{"s":"1-150","t":2015.808,"v":-4.42},{"s":"1-150","t":2015.846,"v":-4.35},{"s":"1-150","t":2015.885,"v":-4.40},{"s":"1-150","t":2015.923,"v":-4.30},{"s":"1-150","t":2015.962,"v":-4.45},
{"s":"1-150","t":2016,"v":-4.63},{"s":"1-150","t":2016.038,"v":-4.45},{"s":"1-150","t":2016.077,"v":-4.32},{"s":"1-150","t":2016.115,"v":-4.42},{"s":"1-150","t":2016.154,"v":-4.30},{"s":"1-150","t":2016.192,"v":-4.38},{"s":"1-150","t":2016.231,"v":-4.28},{"s":"1-150","t":2016.269,"v":-4.45},{"s":"1-150","t":2016.308,"v":-4.35},{"s":"1-150","t":2016.346,"v":-4.40},{"s":"1-150","t":2016.385,"v":-4.25},{"s":"1-150","t":2016.423,"v":-4.20},{"s":"1-150","t":2016.462,"v":-4.28},{"s":"1-150","t":2016.5,"v":-4.35},{"s":"1-150","t":2016.538,"v":-4.40},{"s":"1-150","t":2016.577,"v":-4.28},{"s":"1-150","t":2016.615,"v":-4.35},{"s":"1-150","t":2016.654,"v":-4.12},{"s":"1-150","t":2016.692,"v":-4.38},{"s":"1-150","t":2016.731,"v":-4.30},{"s":"1-150","t":2016.769,"v":-4.45},{"s":"1-150","t":2016.808,"v":-4.20},{"s":"1-150","t":2016.846,"v":-4.25},{"s":"1-150","t":2016.885,"v":-4.40},{"s":"1-150","t":2016.923,"v":-4.35},{"s":"1-150","t":2016.962,"v":-4.60},
{"s":"1-150","t":2017,"v":-3.17},{"s":"1-150","t":2017.038,"v":-4.40},{"s":"1-150","t":2017.077,"v":-4.25},{"s":"1-150","t":2017.115,"v":-4.45},{"s":"1-150","t":2017.154,"v":-4.95},{"s":"1-150","t":2017.192,"v":-4.85},{"s":"1-150","t":2017.231,"v":-5.05},{"s":"1-150","t":2017.269,"v":-4.90},{"s":"1-150","t":2017.308,"v":-4.98},{"s":"1-150","t":2017.346,"v":-5.08},{"s":"1-150","t":2017.385,"v":-4.80},{"s":"1-150","t":2017.423,"v":-4.92},{"s":"1-150","t":2017.462,"v":-4.85},{"s":"1-150","t":2017.5,"v":-4.95},{"s":"1-150","t":2017.538,"v":-4.90},{"s":"1-150","t":2017.577,"v":-4.20},{"s":"1-150","t":2017.615,"v":-4.35},{"s":"1-150","t":2017.654,"v":-4.18},{"s":"1-150","t":2017.692,"v":-4.30},{"s":"1-150","t":2017.731,"v":-4.20},{"s":"1-150","t":2017.769,"v":-4.25},{"s":"1-150","t":2017.808,"v":-4.15},{"s":"1-150","t":2017.846,"v":-4.30},{"s":"1-150","t":2017.885,"v":-4.18},{"s":"1-150","t":2017.923,"v":-4.22},{"s":"1-150","t":2017.962,"v":-3.35},
{"s":"1-150","t":2018,"v":-4.15},{"s":"1-150","t":2018.038,"v":-4.05},{"s":"1-150","t":2018.077,"v":-4.20},{"s":"1-150","t":2018.115,"v":-4.00},{"s":"1-150","t":2018.154,"v":-4.12},{"s":"1-150","t":2018.192,"v":-3.95},{"s":"1-150","t":2018.231,"v":-4.05},{"s":"1-150","t":2018.269,"v":-3.92},{"s":"1-150","t":2018.308,"v":-4.10},{"s":"1-150","t":2018.346,"v":-3.85},{"s":"1-150","t":2018.385,"v":-4.00},{"s":"1-150","t":2018.423,"v":-3.80},{"s":"1-150","t":2018.462,"v":-3.95},{"s":"1-150","t":2018.5,"v":-3.80},{"s":"1-150","t":2018.538,"v":-3.92},{"s":"1-150","t":2018.577,"v":-3.75},{"s":"1-150","t":2018.615,"v":-3.95},{"s":"1-150","t":2018.654,"v":-3.82},{"s":"1-150","t":2018.692,"v":-3.98},{"s":"1-150","t":2018.731,"v":-3.85},{"s":"1-150","t":2018.769,"v":-3.78},{"s":"1-150","t":2018.808,"v":-3.92},{"s":"1-150","t":2018.846,"v":-3.80},{"s":"1-150","t":2018.885,"v":-3.70},{"s":"1-150","t":2018.923,"v":-3.95},{"s":"1-150","t":2018.962,"v":-3.85},
{"s":"1-150","t":2019,"v":-3.47},{"s":"1-150","t":2019.038,"v":-3.87},{"s":"1-150","t":2019.077,"v":-3.70},{"s":"1-150","t":2019.115,"v":-3.83},{"s":"1-150","t":2019.154,"v":-3.68},{"s":"1-150","t":2019.192,"v":-3.80},{"s":"1-150","t":2019.231,"v":-3.95},{"s":"1-150","t":2019.269,"v":-4.13},{"s":"1-150","t":2019.308,"v":-3.94},{"s":"1-150","t":2019.346,"v":-4.00},{"s":"1-150","t":2019.385,"v":-3.90},{"s":"1-150","t":2019.423,"v":-4.32},{"s":"1-150","t":2019.462,"v":-3.87},{"s":"1-150","t":2019.5,"v":-4.05},{"s":"1-150","t":2019.538,"v":-3.73},{"s":"1-150","t":2019.577,"v":-3.87},{"s":"1-150","t":2019.615,"v":-3.77},{"s":"1-150","t":2019.654,"v":-3.87},{"s":"1-150","t":2019.692,"v":-3.87},{"s":"1-150","t":2019.731,"v":-3.90},{"s":"1-150","t":2019.769,"v":-4.00},{"s":"1-150","t":2019.808,"v":-4.25},{"s":"1-150","t":2019.846,"v":-3.87},{"s":"1-150","t":2019.885,"v":-3.77},{"s":"1-150","t":2019.923,"v":-3.61},{"s":"1-150","t":2019.962,"v":-3.80},{"s":"1-150","t":2020,"v":-3.80},
{"s":"1-180","t":2015,"v":-3.69},{"s":"1-180","t":2015.038,"v":-4.65},{"s":"1-180","t":2015.077,"v":-4.68},{"s":"1-180","t":2015.115,"v":-4.50},{"s":"1-180","t":2015.154,"v":-4.80},{"s":"1-180","t":2015.192,"v":-4.55},{"s":"1-180","t":2015.231,"v":-4.80},{"s":"1-180","t":2015.269,"v":-4.52},{"s":"1-180","t":2015.308,"v":-4.88},{"s":"1-180","t":2015.346,"v":-4.50},{"s":"1-180","t":2015.385,"v":-4.91},{"s":"1-180","t":2015.423,"v":-4.55},{"s":"1-180","t":2015.462,"v":-4.60},{"s":"1-180","t":2015.5,"v":-4.45},{"s":"1-180","t":2015.538,"v":-4.55},{"s":"1-180","t":2015.577,"v":-4.45},{"s":"1-180","t":2015.615,"v":-4.40},{"s":"1-180","t":2015.654,"v":-4.52},{"s":"1-180","t":2015.692,"v":-4.72},{"s":"1-180","t":2015.731,"v":-4.55},{"s":"1-180","t":2015.769,"v":-4.58},{"s":"1-180","t":2015.808,"v":-4.80},{"s":"1-180","t":2015.846,"v":-4.62},{"s":"1-180","t":2015.885,"v":-4.72},{"s":"1-180","t":2015.923,"v":-4.55},{"s":"1-180","t":2015.962,"v":-4.88},
{"s":"1-180","t":2016,"v":-4.60},{"s":"1-180","t":2016.038,"v":-4.78},{"s":"1-180","t":2016.077,"v":-4.50},{"s":"1-180","t":2016.115,"v":-4.62},{"s":"1-180","t":2016.154,"v":-4.48},{"s":"1-180","t":2016.192,"v":-4.55},{"s":"1-180","t":2016.231,"v":-4.60},{"s":"1-180","t":2016.269,"v":-4.65},{"s":"1-180","t":2016.308,"v":-4.67},{"s":"1-180","t":2016.346,"v":-4.50},{"s":"1-180","t":2016.385,"v":-4.42},{"s":"1-180","t":2016.423,"v":-4.35},{"s":"1-180","t":2016.462,"v":-4.50},{"s":"1-180","t":2016.5,"v":-4.40},{"s":"1-180","t":2016.538,"v":-4.55},{"s":"1-180","t":2016.577,"v":-4.42},{"s":"1-180","t":2016.615,"v":-4.60},{"s":"1-180","t":2016.654,"v":-4.35},{"s":"1-180","t":2016.692,"v":-4.55},{"s":"1-180","t":2016.731,"v":-4.62},{"s":"1-180","t":2016.769,"v":-4.48},{"s":"1-180","t":2016.808,"v":-4.70},{"s":"1-180","t":2016.846,"v":-4.50},{"s":"1-180","t":2016.885,"v":-4.60},{"s":"1-180","t":2016.923,"v":-4.48},{"s":"1-180","t":2016.962,"v":-4.77},
{"s":"1-180","t":2017,"v":-3.30},{"s":"1-180","t":2017.038,"v":-4.55},{"s":"1-180","t":2017.077,"v":-4.40},{"s":"1-180","t":2017.115,"v":-4.60},{"s":"1-180","t":2017.154,"v":-5.20},{"s":"1-180","t":2017.192,"v":-5.40},{"s":"1-180","t":2017.231,"v":-5.45},{"s":"1-180","t":2017.269,"v":-5.25},{"s":"1-180","t":2017.308,"v":-5.35},{"s":"1-180","t":2017.346,"v":-5.40},{"s":"1-180","t":2017.385,"v":-5.10},{"s":"1-180","t":2017.423,"v":-5.25},{"s":"1-180","t":2017.462,"v":-5.05},{"s":"1-180","t":2017.5,"v":-5.12},{"s":"1-180","t":2017.538,"v":-5.08},{"s":"1-180","t":2017.577,"v":-4.45},{"s":"1-180","t":2017.615,"v":-4.30},{"s":"1-180","t":2017.654,"v":-4.50},{"s":"1-180","t":2017.692,"v":-4.38},{"s":"1-180","t":2017.731,"v":-4.55},{"s":"1-180","t":2017.769,"v":-4.35},{"s":"1-180","t":2017.808,"v":-4.48},{"s":"1-180","t":2017.846,"v":-4.28},{"s":"1-180","t":2017.885,"v":-4.62},{"s":"1-180","t":2017.923,"v":-4.40},{"s":"1-180","t":2017.962,"v":-3.55},
{"s":"1-180","t":2018,"v":-4.35},{"s":"1-180","t":2018.038,"v":-4.25},{"s":"1-180","t":2018.077,"v":-4.45},{"s":"1-180","t":2018.115,"v":-4.15},{"s":"1-180","t":2018.154,"v":-4.40},{"s":"1-180","t":2018.192,"v":-4.10},{"s":"1-180","t":2018.231,"v":-4.30},{"s":"1-180","t":2018.269,"v":-4.05},{"s":"1-180","t":2018.308,"v":-4.62},{"s":"1-180","t":2018.346,"v":-4.00},{"s":"1-180","t":2018.385,"v":-4.25},{"s":"1-180","t":2018.423,"v":-3.95},{"s":"1-180","t":2018.462,"v":-4.15},{"s":"1-180","t":2018.5,"v":-4.05},{"s":"1-180","t":2018.538,"v":-4.20},{"s":"1-180","t":2018.577,"v":-3.95},{"s":"1-180","t":2018.615,"v":-4.25},{"s":"1-180","t":2018.654,"v":-4.10},{"s":"1-180","t":2018.692,"v":-4.30},{"s":"1-180","t":2018.731,"v":-4.05},{"s":"1-180","t":2018.769,"v":-4.32},{"s":"1-180","t":2018.808,"v":-3.98},{"s":"1-180","t":2018.846,"v":-4.40},{"s":"1-180","t":2018.885,"v":-4.13},{"s":"1-180","t":2018.923,"v":-4.05},{"s":"1-180","t":2018.962,"v":-4.25},
{"s":"1-180","t":2019,"v":-3.68},{"s":"1-180","t":2019.038,"v":-4.24},{"s":"1-180","t":2019.077,"v":-3.87},{"s":"1-180","t":2019.115,"v":-4.21},{"s":"1-180","t":2019.154,"v":-4.04},{"s":"1-180","t":2019.192,"v":-4.30},{"s":"1-180","t":2019.231,"v":-4.10},{"s":"1-180","t":2019.269,"v":-4.30},{"s":"1-180","t":2019.308,"v":-4.05},{"s":"1-180","t":2019.346,"v":-4.73},{"s":"1-180","t":2019.385,"v":-3.94},{"s":"1-180","t":2019.423,"v":-4.52},{"s":"1-180","t":2019.462,"v":-4.35},{"s":"1-180","t":2019.5,"v":-4.35},{"s":"1-180","t":2019.538,"v":-4.04},{"s":"1-180","t":2019.577,"v":-4.30},{"s":"1-180","t":2019.615,"v":-4.04},{"s":"1-180","t":2019.654,"v":-4.30},{"s":"1-180","t":2019.692,"v":-4.04},{"s":"1-180","t":2019.731,"v":-4.20},{"s":"1-180","t":2019.769,"v":-4.30},{"s":"1-180","t":2019.808,"v":-4.52},{"s":"1-180","t":2019.846,"v":-4.00},{"s":"1-180","t":2019.885,"v":-4.10},{"s":"1-180","t":2019.923,"v":-3.80},{"s":"1-180","t":2019.962,"v":-4.10},{"s":"1-180","t":2020,"v":-4.10}
]
},
"layer": [
{"data": {"name": "events"}, "mark": {"type": "rule", "color": "#b3b3b3", "strokeWidth": 2}, "encoding": {"y": {"datum": 0, "type": "quantitative"}}},
{"data": {"name": "raw"},
 "mark": {"type": "line", "strokeWidth": 2.5},
 "encoding": {
  "x": {"field": "t", "type": "quantitative", "scale": {"domain": [2014.736, 2020.216], "nice": false, "zero": false},
        "axis": {"values": [2015, 2016, 2017, 2018, 2019, 2020], "format": "d", "title": "Year", "grid": false, "labelPadding": 3, "titlePadding": 2}},
  "y": {"field": "v", "type": "quantitative", "scale": {"domain": [-6, 0], "nice": false, "zero": false},
        "axis": {"values": [-6, -5, -4, -3, -2, -1, 0], "labelExpr": "datum.value == 0 ? '0' : '-' + abs(datum.value)", "title": "Average Move Quality", "grid": true, "labelPadding": 5, "titlePadding": 14}},
  "color": {"field": "s", "type": "nominal",
            "scale": {"domain": ["1-30", "1-90", "1-150", "1-60", "1-120", "1-180"], "range": ["#E64B35", "#00A087", "#F39B7F", "#4DBBD5", "#3C5488", "#8491B4"]},
            "legend": {"title": null, "orient": "none", "legendX": 375, "legendY": 697, "columns": 3, "direction": "horizontal"}}
 }},
{"data": {"name": "smooth"},
 "mark": {"type": "area", "color": "#b8b8b8", "opacity": 0.55, "interpolate": "monotone"},
 "encoding": {"x": {"field": "t", "type": "quantitative"}, "y": {"field": "lo", "type": "quantitative"}, "y2": {"field": "hi"}, "detail": {"field": "s"}}},
{"data": {"name": "smooth"},
 "mark": {"type": "line", "color": "#3A6790", "strokeWidth": 6, "interpolate": "monotone"},
 "encoding": {"x": {"field": "t", "type": "quantitative"}, "y": {"field": "y", "type": "quantitative"}, "detail": {"field": "s"}}},
{"data": {"name": "events"},
 "mark": {"type": "rule", "color": "#5DB761", "strokeWidth": 3, "strokeDash": [13, 16]},
 "encoding": {"x": {"field": "t", "type": "quantitative"}}},
{"data": {"name": "events"},
 "mark": {"type": "text", "align": "left", "baseline": "alphabetic", "dx": 15, "dy": 25, "fontSize": 24, "color": "#404040"},
 "encoding": {"x": {"field": "t", "type": "quantitative"}, "y": {"datum": 0, "type": "quantitative"}, "text": {"field": "event"}}}
]
}
